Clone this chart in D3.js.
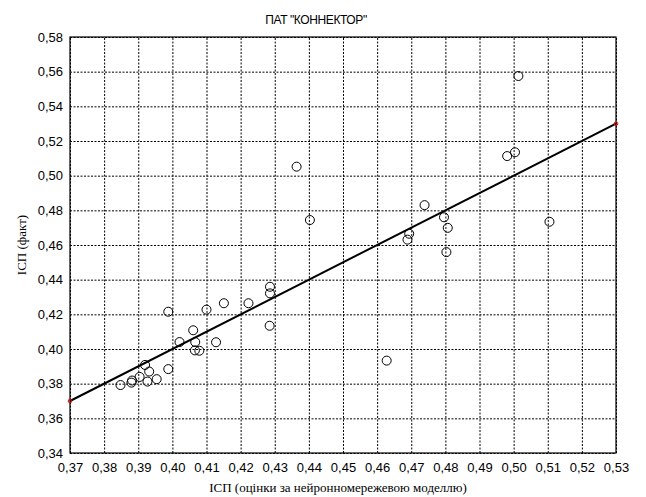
<!DOCTYPE html>
<html>
<head>
<meta charset="utf-8">
<script src="https://cdn.jsdelivr.net/npm/d3@7"></script>
<style>
  body { margin: 0; background: #fff; }
  svg { display: block; }
</style>
</head>
<body>
<div id="chart"></div>
<script>
// points: model estimate vs fact
var predicted = [0.3848, 0.3880, 0.3882, 0.3904, 0.3920, 0.3927, 0.3932, 0.3954, 0.3988, 0.3988,
                 0.4021, 0.4061, 0.4067, 0.4066, 0.4079, 0.4100, 0.4128, 0.4151, 0.4223, 0.4286,
                 0.4286, 0.4285, 0.4364, 0.4403, 0.4628, 0.4689, 0.4694, 0.4739, 0.4796, 0.4807,
                 0.4803, 0.4981, 0.5004, 0.5014, 0.5105];
var actual    = [0.3792, 0.3806, 0.3818, 0.3839, 0.3908, 0.3812, 0.3870, 0.3826, 0.3884, 0.4215,
                 0.4040, 0.4108, 0.4040, 0.3992, 0.3990, 0.4227, 0.4039, 0.4264, 0.4264, 0.4359,
                 0.4321, 0.4134, 0.5052, 0.4744, 0.3933, 0.4631, 0.4665, 0.4830, 0.4760, 0.4699,
                 0.4559, 0.5113, 0.5135, 0.5575, 0.4734];
var fitLine = [[0.37, 0.37], [0.53, 0.53]];
var xTicks = [0.37, 0.38, 0.39, 0.40, 0.41, 0.42, 0.43, 0.44, 0.45, 0.46, 0.47, 0.48, 0.49, 0.50, 0.51, 0.52, 0.53];
var yTicks = [0.34, 0.36, 0.38, 0.40, 0.42, 0.44, 0.46, 0.48, 0.50, 0.52, 0.54, 0.56, 0.58];
var title = "ПАТ \"КОННЕКТОР\"";
var xTitle = "ІСП (оцінки за нейронномережевою моделлю)";
var yTitle = "ІСП (факт)";

var W = 646, H = 497;
var margin = {top: 37, right: 30, bottom: 44, left: 70};
var width = W - margin.left - margin.right,
    height = H - margin.top - margin.bottom;

var fmt = d3.formatLocale({decimal: ",", thousands: " ", grouping: [3], currency: ["", ""]}).format(".2f");

var svg = d3.select("#chart").append("svg")
    .attr("width", W)
    .attr("height", H);

var g = svg.append("g")
    .attr("transform", "translate(" + margin.left + "," + margin.top + ")");

var x = d3.scaleLinear().domain([0.37, 0.53]).range([0, width]);
var y = d3.scaleLinear().domain([0.34, 0.58]).range([height, 0]);

// dotted grid
g.append("g")
    .attr("class", "grid")
    .attr("transform", "translate(0," + height + ")")
    .call(d3.axisBottom(x).tickValues(xTicks).tickSize(-height).tickFormat(""))
    .call(function(s) { s.select(".domain").remove(); });
g.append("g")
    .attr("class", "grid")
    .call(d3.axisLeft(y).tickValues(yTicks).tickSize(-width).tickFormat(""))
    .call(function(s) { s.select(".domain").remove(); });
g.selectAll(".grid line")
    .attr("stroke", "#000")
    .attr("stroke-width", 1)
    .attr("stroke-dasharray", "2,1.5");

// tick labels
var xAxis = g.append("g")
    .attr("transform", "translate(0," + height + ")")
    .call(d3.axisBottom(x).tickValues(xTicks).tickSize(0).tickPadding(10).tickFormat(fmt));
var yAxis = g.append("g")
    .call(d3.axisLeft(y).tickValues(yTicks).tickSize(0).tickPadding(7).tickFormat(fmt));
[xAxis, yAxis].forEach(function(a) {
    a.select(".domain").remove();
    a.selectAll("text")
        .attr("fill", "#000")
        .style("font-family", "Arial, 'Liberation Sans', sans-serif")
        .style("font-size", "13px");
});

// frame
g.append("rect")
    .attr("x", 0).attr("y", 0)
    .attr("width", width).attr("height", height)
    .attr("fill", "none")
    .attr("stroke", "#000")
    .attr("stroke-width", 1.2);

// fitted line
g.append("line")
    .attr("x1", x(fitLine[0][0])).attr("y1", y(fitLine[0][1]))
    .attr("x2", x(fitLine[1][0])).attr("y2", y(fitLine[1][1]))
    .attr("stroke", "#000")
    .attr("stroke-width", 2);
g.selectAll(".endpt")
    .data(fitLine)
    .enter().append("circle")
    .attr("class", "endpt")
    .attr("cx", function(d) { return x(d[0]); })
    .attr("cy", function(d) { return y(d[1]); })
    .attr("r", 1.8)
    .attr("fill", "none")
    .attr("stroke", "#e00")
    .attr("stroke-width", 1);

// scatter points
g.selectAll(".pt")
    .data(predicted.map(function(p, i) { return [p, actual[i]]; }))
    .enter().append("circle")
    .attr("class", "pt")
    .attr("cx", function(d) { return x(d[0]); })
    .attr("cy", function(d) { return y(d[1]); })
    .attr("r", 4.5)
    .attr("fill", "none")
    .attr("stroke", "#000")
    .attr("stroke-width", 1);

// titles
svg.append("text")
    .attr("x", 316).attr("y", 24)
    .attr("text-anchor", "middle")
    .style("font-family", "Arial, 'Liberation Sans', sans-serif")
    .style("font-size", "12px")
    .style("letter-spacing", "-0.4px")
    .text(title);

svg.append("text")
    .attr("x", margin.left + width / 2 - 5).attr("y", 492)
    .attr("text-anchor", "middle")
    .style("font-family", "'Times New Roman', 'Liberation Serif', serif")
    .style("font-size", "13px")
    .text(xTitle);

svg.append("text")
    .attr("transform", "translate(26," + (margin.top + height / 2) + ") rotate(-90)")
    .attr("text-anchor", "middle")
    .style("font-family", "'Times New Roman', 'Liberation Serif', serif")
    .style("font-size", "13px")
    .text(yTitle);
</script>
</body>
</html>
